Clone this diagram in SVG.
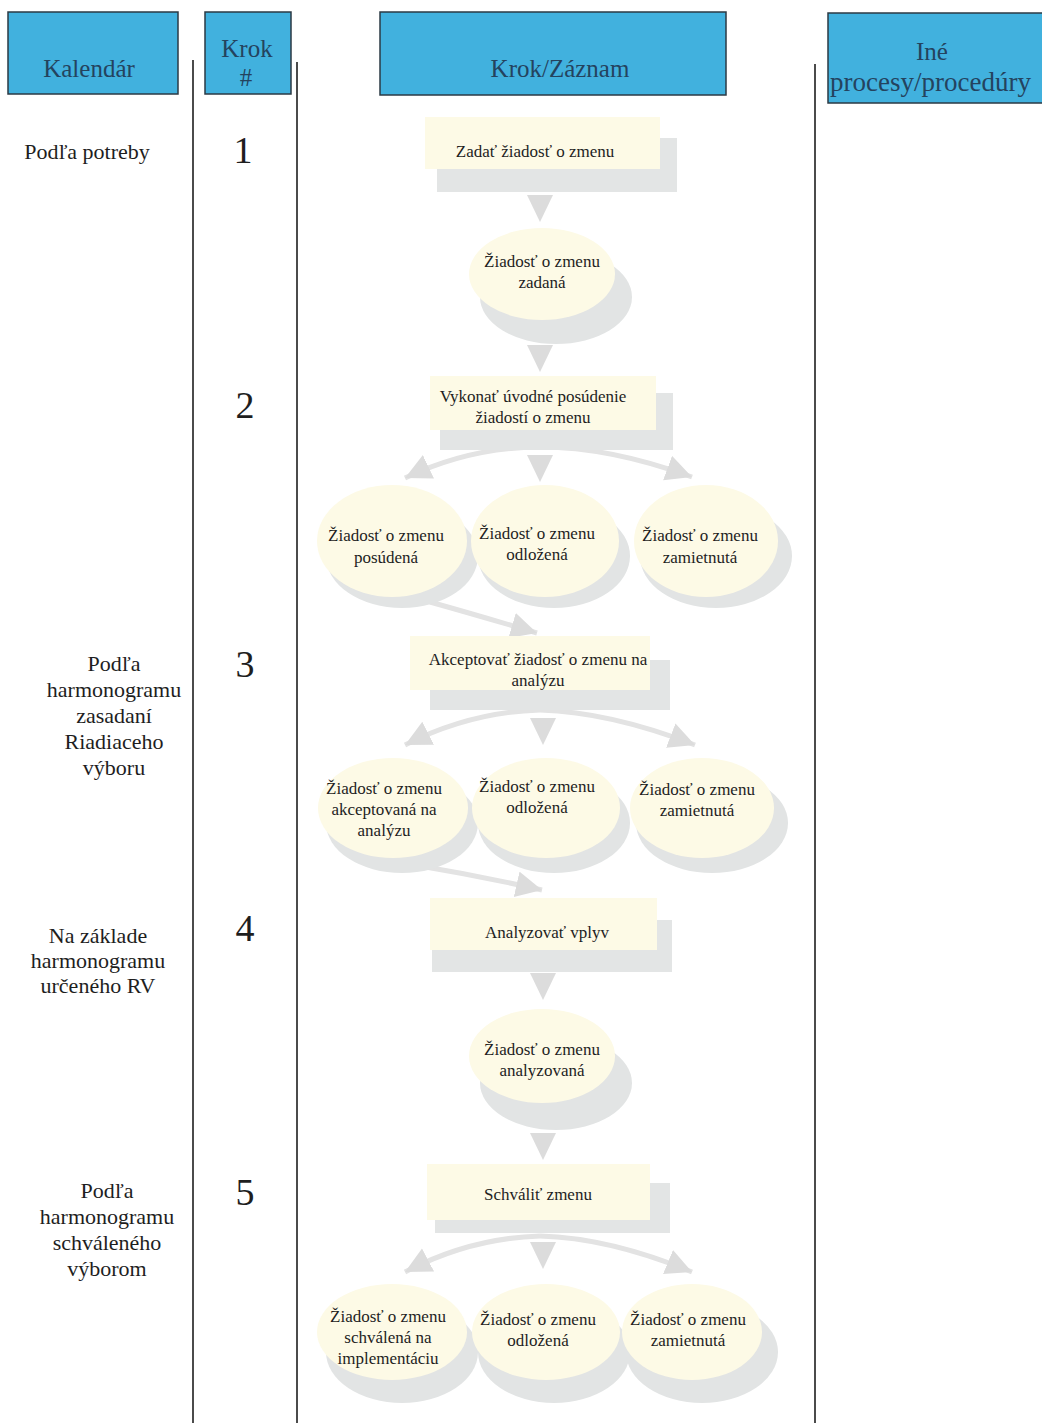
<svg xmlns="http://www.w3.org/2000/svg" xmlns:xlink="http://www.w3.org/1999/xlink" width="1042" height="1423" viewBox="0 0 1042 1423">
<style>
.hdr{fill:#41b1de;stroke:#2b3a44;stroke-width:1.5}
.ht{font-family:"Liberation Serif","DejaVu Serif",serif;font-size:25px;fill:#24435e;text-anchor:middle}
.lt{font-family:"Liberation Serif","DejaVu Serif",serif;font-size:22px;fill:#1e1e1e;text-anchor:middle}
.num{font-family:"Liberation Serif","DejaVu Serif",serif;font-size:38px;fill:#1e1e1e;text-anchor:middle}
.ft{font-family:"Liberation Serif","DejaVu Serif",serif;font-size:17px;fill:#1e1e1e;text-anchor:middle}
.lane{stroke:#1e1e1e;stroke-width:1.6;fill:none}
.box{fill:#fdfae6}
.shd{fill:#e3e5e5}
.dtop{fill:#fdfae6}
.dsh{fill:#e2e4e4}
.con{fill:none;stroke:#e3e3e3;stroke-width:5}
.tri{fill:#dcdcdc}
</style>
<defs>
<marker id="ah" markerUnits="userSpaceOnUse" markerWidth="30" markerHeight="30" refX="26" refY="13" orient="auto">
<path d="M0,0 L26,13 L0,26 z" fill="#dcdcdc"/>
</marker>
<path id="dn" d="M-13,0 L13,0 L0,27 z"/>
</defs>
<rect width="1042" height="1423" fill="#ffffff"/>

<g id="headers">
<g id="h-kalendar"><rect class="hdr" x="8" y="12" width="170" height="82"/><text class="ht" x="89" y="77">Kalendár</text></g>
<g id="h-krok"><rect class="hdr" x="205" y="12" width="86" height="82"/><text class="ht" x="247" y="57">Krok</text><text class="ht" x="246" y="86">#</text></g>
<g id="h-zaznam"><rect class="hdr" x="380" y="12" width="346" height="83"/><text class="ht" x="560" y="77">Krok/Záznam</text></g>
<g id="h-ine"><rect class="hdr" x="828" y="13" width="230" height="90"/><text class="ht" x="932" y="60">Iné</text><text class="ht" x="830" y="91" style="text-anchor:start;font-size:27px">procesy/procedúry</text></g>
</g>

<g id="lanes">
<line class="lane" x1="193" y1="60" x2="193" y2="1423"/>
<line class="lane" x1="297" y1="62" x2="297" y2="1423"/>
<line class="lane" x1="815" y1="64" x2="815" y2="1423"/>
</g>

<g id="calendar">
<text class="lt" x="87" y="159">Podľa potreby</text>
<text class="lt" x="114" y="671">Podľa</text>
<text class="lt" x="114" y="697">harmonogramu</text>
<text class="lt" x="114" y="723">zasadaní</text>
<text class="lt" x="114" y="749">Riadiaceho</text>
<text class="lt" x="114" y="775">výboru</text>
<text class="lt" x="98" y="943">Na základe</text>
<text class="lt" x="98" y="968">harmonogramu</text>
<text class="lt" x="98" y="993">určeného RV</text>
<text class="lt" x="107" y="1198">Podľa</text>
<text class="lt" x="107" y="1224">harmonogramu</text>
<text class="lt" x="107" y="1250">schváleného</text>
<text class="lt" x="107" y="1276">výborom</text>
</g>

<g id="steps">
<text class="num" x="243" y="163">1</text>
<text class="num" x="245" y="418">2</text>
<text class="num" x="245" y="677">3</text>
<text class="num" x="245" y="941">4</text>
<text class="num" x="245" y="1205">5</text>
</g>

<g id="connectors">
<use href="#dn" class="tri" x="540" y="195"/>
<use href="#dn" class="tri" x="540" y="345"/>
<use href="#dn" class="tri" x="540" y="455"/>
<path class="con" d="M540,447 Q470,447 405,478" marker-end="url(#ah)"/>
<path class="con" d="M540,447 Q610,447 692,477" marker-end="url(#ah)"/>
<path class="con" d="M430,602 Q480,616 537,633" marker-end="url(#ah)"/>
<use href="#dn" class="tri" x="543" y="718"/>
<path class="con" d="M540,710 Q470,712 405,745" marker-end="url(#ah)"/>
<path class="con" d="M540,710 Q610,712 695,745" marker-end="url(#ah)"/>
<path class="con" d="M420,866 Q480,876 542,890" marker-end="url(#ah)"/>
<use href="#dn" class="tri" x="543" y="973"/>
<use href="#dn" class="tri" x="543" y="1133"/>
<use href="#dn" class="tri" x="543" y="1242"/>
<path class="con" d="M540,1236 Q470,1238 405,1272" marker-end="url(#ah)"/>
<path class="con" d="M540,1236 Q610,1238 692,1272" marker-end="url(#ah)"/>
</g>

<g id="n1"><rect class="shd" x="437" y="138" width="240" height="54"/><rect class="box" x="425" y="117" width="235" height="52"/><text class="ft" x="535" y="157">Zadať žiadosť o zmenu</text></g>

<g id="n2"><ellipse class="dsh" cx="556" cy="297" rx="76" ry="47"/><ellipse class="dtop" cx="542" cy="274" rx="73" ry="46"/><text class="ft" x="542" y="267">Žiadosť o zmenu</text><text class="ft" x="542" y="288">zadaná</text></g>

<g id="n3"><rect class="shd" x="440" y="393" width="233" height="57"/><rect class="box" x="430" y="376" width="226" height="54"/><text class="ft" x="533" y="402">Vykonať úvodné posúdenie</text><text class="ft" x="533" y="423">žiadostí o zmenu</text></g>

<g id="n4"><ellipse class="dsh" cx="402" cy="556" rx="76" ry="52"/><ellipse class="dtop" cx="392" cy="541" rx="75" ry="56"/><text class="ft" x="386" y="541">Žiadosť o zmenu</text><text class="ft" x="386" y="563">posúdená</text></g>
<g id="n5"><ellipse class="dsh" cx="554" cy="556" rx="76" ry="52"/><ellipse class="dtop" cx="545" cy="541" rx="74" ry="56"/><text class="ft" x="537" y="539">Žiadosť o zmenu</text><text class="ft" x="537" y="560">odložená</text></g>
<g id="n6"><ellipse class="dsh" cx="716" cy="556" rx="76" ry="52"/><ellipse class="dtop" cx="706" cy="541" rx="72" ry="56"/><text class="ft" x="700" y="541">Žiadosť o zmenu</text><text class="ft" x="700" y="563">zamietnutá</text></g>

<g id="n7"><rect class="shd" x="430" y="660" width="240" height="50"/><rect class="box" x="410" y="636" width="240" height="54"/><text class="ft" x="538" y="665">Akceptovať žiadosť o zmenu na</text><text class="ft" x="538" y="686">analýzu</text></g>

<g id="n8"><ellipse class="dsh" cx="402" cy="823" rx="76" ry="50"/><ellipse class="dtop" cx="393" cy="808" rx="75" ry="50"/><text class="ft" x="384" y="794">Žiadosť o zmenu</text><text class="ft" x="384" y="815">akceptovaná na</text><text class="ft" x="384" y="836">analýzu</text></g>
<g id="n9"><ellipse class="dsh" cx="554" cy="823" rx="76" ry="50"/><ellipse class="dtop" cx="546" cy="808" rx="74" ry="50"/><text class="ft" x="537" y="792">Žiadosť o zmenu</text><text class="ft" x="537" y="813">odložená</text></g>
<g id="n10"><ellipse class="dsh" cx="712" cy="823" rx="76" ry="50"/><ellipse class="dtop" cx="702" cy="808" rx="72" ry="50"/><text class="ft" x="697" y="795">Žiadosť o zmenu</text><text class="ft" x="697" y="816">zamietnutá</text></g>

<g id="n11"><rect class="shd" x="432" y="920" width="240" height="52"/><rect class="box" x="430" y="898" width="227" height="52"/><text class="ft" x="547" y="938">Analyzovať vplyv</text></g>

<g id="n12"><ellipse class="dsh" cx="556" cy="1083" rx="76" ry="47"/><ellipse class="dtop" cx="542" cy="1056" rx="73" ry="47"/><text class="ft" x="542" y="1055">Žiadosť o zmenu</text><text class="ft" x="542" y="1076">analyzovaná</text></g>

<g id="n13"><rect class="shd" x="435" y="1183" width="235" height="50"/><rect class="box" x="427" y="1164" width="223" height="56"/><text class="ft" x="538" y="1200">Schváliť zmenu</text></g>

<g id="n14"><ellipse class="dsh" cx="402" cy="1352" rx="76" ry="51"/><ellipse class="dtop" cx="392" cy="1332" rx="75" ry="48"/><text class="ft" x="388" y="1322">Žiadosť o zmenu</text><text class="ft" x="388" y="1343">schválená na</text><text class="ft" x="388" y="1364">implementáciu</text></g>
<g id="n15"><ellipse class="dsh" cx="554" cy="1352" rx="76" ry="51"/><ellipse class="dtop" cx="546" cy="1332" rx="74" ry="48"/><text class="ft" x="538" y="1325">Žiadosť o zmenu</text><text class="ft" x="538" y="1346">odložená</text></g>
<g id="n16"><ellipse class="dsh" cx="702" cy="1352" rx="76" ry="51"/><ellipse class="dtop" cx="692" cy="1332" rx="70" ry="48"/><text class="ft" x="688" y="1325">Žiadosť o zmenu</text><text class="ft" x="688" y="1346">zamietnutá</text></g>
</svg>
